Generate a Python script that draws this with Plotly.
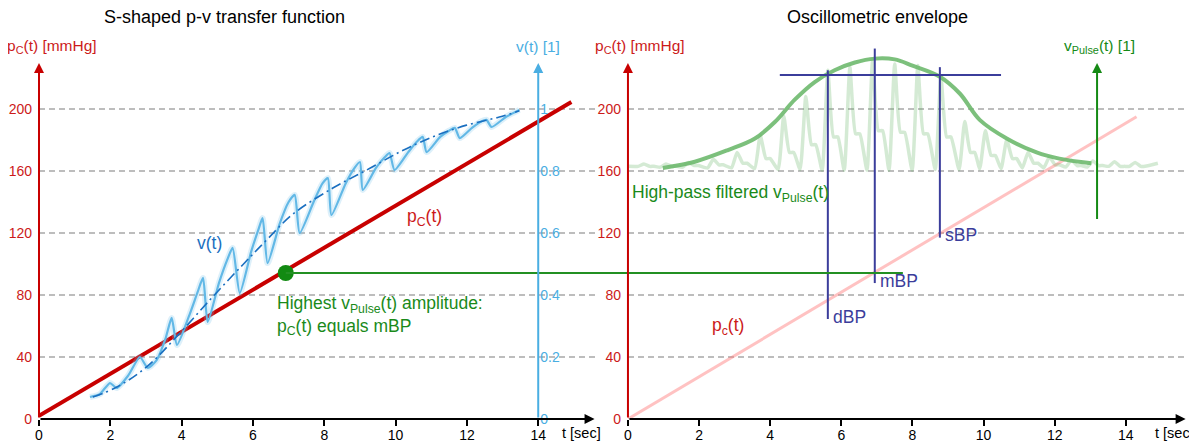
import plotly.graph_objects as go

# ---------------- data ----------------
x_ticks = [0, 2, 4, 6, 8, 10, 12, 14]
p_ticks = [0, 40, 80, 120, 160, 200]
v_ticks = [0, 0.2, 0.4, 0.6, 0.8, 1]
v_tick_text = ["0", "0.2", "0.4", "0.6", "0.8", "1"]

# left panel: cuff pressure ramp (mmHg)
pc_line_t = [0, 14.93]
pc_line_p = [2, 204.5]

# left panel: measured volume signal v(t) [1]
v_t = [1.43, 1.7, 1.99, 2.18, 2.5, 2.83, 3.05, 3.3, 3.55, 3.72, 3.87, 4.2, 4.45, 4.6, 4.73,
       5.05, 5.3, 5.43, 5.63, 5.95, 6.15, 6.27, 6.41, 6.75, 7.0, 7.17, 7.31, 7.7, 7.95, 8.1,
       8.2, 8.6, 8.85, 9.0, 9.08, 9.45, 9.7, 9.83, 9.97, 10.35, 10.6, 10.76, 10.87, 11.25,
       11.5, 11.66, 11.8, 12.15, 12.4, 12.55, 12.69, 13.1, 13.47]
v_vals = [0.071, 0.08, 0.116, 0.1, 0.14, 0.2, 0.165, 0.19, 0.26, 0.326, 0.239, 0.33, 0.41, 0.455,
          0.313, 0.44, 0.52, 0.552, 0.406, 0.54, 0.61, 0.648, 0.503, 0.63, 0.70, 0.723, 0.6,
          0.70, 0.76, 0.777, 0.658, 0.76, 0.81, 0.829, 0.739, 0.81, 0.845, 0.858, 0.803, 0.86,
          0.895, 0.91, 0.861, 0.91, 0.93, 0.939, 0.906, 0.94, 0.96, 0.965, 0.942, 0.975, 0.997]

# left panel: smooth S-shaped trend of v(t)
v_smooth_t = [1.51, 2.18, 3.02, 3.95, 4.87, 5.71, 6.38, 7.11, 8.24, 9.19, 10.11, 11.04, 11.99, 12.91, 13.47]
v_smooth_v = [0.071, 0.103, 0.168, 0.277, 0.394, 0.497, 0.577, 0.66, 0.745, 0.803, 0.861, 0.91, 0.948, 0.974, 0.994]

# point of highest pulse amplitude
mbp_point_t = 6.92
mbp_point_p = 94.2
mbp_line_end_t = 7.73   # end of the horizontal marker line (right panel time)

# right panel: pressure ramp
pc_ramp_t = [0, 14.3]
pc_ramp_p = [0, 195]

# right panel: high-pass filtered pulse signal (plotted on the pressure scale)
osc_peak_t = [0.45, 1.07, 1.7, 2.4, 3.07, 3.72, 4.38, 5.0, 5.62, 6.24, 6.88, 7.5, 8.15, 8.8,
              9.47, 10.05, 10.65, 11.25, 11.85, 12.47, 13.07, 13.68, 14.26]
osc_peak_p = [164.5, 164.5, 165.5, 167.5, 172, 183, 195.5, 208, 225, 227, 232, 229, 228, 221,
              192, 186, 180, 172, 169, 167, 166.5, 166, 165.5]
osc_notch_p = [163, 163, 163.5, 164, 165, 168, 172, 177, 182, 184, 186, 185, 184, 182,
               172, 170, 168, 165, 164, 163.5, 163.5, 163, 163]
osc_trough_p = [163, 162.5, 162.5, 162, 162, 161.5, 161, 161, 160.5, 160.5, 160.5, 160.5, 160.5,
                161, 161, 161.5, 161.5, 162, 162, 162.5, 162.5, 163, 163]
osc_start = (0.0, 163)
osc_end = (14.9, 165)

# envelope of the pulse signal
env_t = [0.98, 1.88, 2.81, 3.57, 4.13, 4.69, 5.25, 5.81, 6.38, 6.94, 7.5, 8.0, 8.76, 9.33,
         9.89, 10.65, 11.49, 12.13, 13.03]
env_p = [162, 166, 173.5, 181, 191.6, 206, 217.4, 225, 230, 232.5, 232, 228, 221, 210,
         193, 181, 172, 168, 165]

# blood pressure markers
bp_names = ["dBP", "mBP", "sBP"]
bp_t = [5.62, 6.94, 8.77]
bp_low = [64.5, 87.7, 117]
bp_high = [225, 239, 227]
thr_p = 222
thr_t = [4.27, 10.49]

# ---------------- layout geometry ----------------
# page body has an 8px default margin, so the figure is made 8px smaller
W, H = 1189, 435
ML, MR, MT, MB = 31, 0, 31, 24
P_RANGE = [0, 245.16]
X1_RANGE = [0, 15.62]
X2_RANGE = [0, 15.72]
X1_DOM = [0, 0.481]
X2_DOM = [0.5086, 0.9914]
V_RANGE = [0, P_RANGE[1] / 200.0]
V_POS = X1_DOM[0] + (14 - X1_RANGE[0]) / (X1_RANGE[1] - X1_RANGE[0]) * (X1_DOM[1] - X1_DOM[0])

RED = "#c80000"
RED_TXT = "#cc1a1a"
LBLUE = "#4aaee2"
DBLUE = "#1a6fc0"
GREEN = "#1a8a1a"
NAVY = "#3b3d9b"
FONT = "Arial, Liberation Sans, sans-serif"
TXT = 17.5


def to_paper_x(t, rng, dom):
    return dom[0] + (t - rng[0]) / (rng[1] - rng[0]) * (dom[1] - dom[0])


fig = go.Figure()

# ---- left panel traces ----
fig.add_trace(go.Scatter(x=v_t, y=v_vals, xaxis="x", yaxis="y2", mode="lines",
                         line=dict(color="rgba(120,195,235,0.25)", width=6, shape="spline", smoothing=0.6),
                         hoverinfo="skip"))
fig.add_trace(go.Scatter(x=v_t, y=v_vals, xaxis="x", yaxis="y2", mode="lines",
                         line=dict(color="#62b8e6", width=2.2, shape="spline", smoothing=0.6)))
fig.add_trace(go.Scatter(x=v_smooth_t, y=v_smooth_v, xaxis="x", yaxis="y2", mode="lines",
                         line=dict(color=DBLUE, width=1.6, dash="10px,4px,2px,4px", shape="spline")))
fig.add_trace(go.Scatter(x=pc_line_t, y=pc_line_p, xaxis="x", yaxis="y", mode="lines",
                         line=dict(color=RED, width=4)))

# ---- right panel traces ----
osc_t = [osc_start[0]]
osc_p = [osc_start[1]]
for tp, pk, nt, tr in zip(osc_peak_t, osc_peak_p, osc_notch_p, osc_trough_p):
    osc_t += [tp - 0.16, tp, tp + 0.16, tp + 0.28]
    osc_p += [tr, pk, nt, nt]
osc_t.append(osc_end[0])
osc_p.append(osc_end[1])

fig.add_trace(go.Scatter(x=pc_ramp_t, y=pc_ramp_p, xaxis="x2", yaxis="y3", mode="lines",
                         line=dict(color="rgba(255,120,120,0.45)", width=3)))
fig.add_trace(go.Scatter(x=osc_t, y=osc_p, xaxis="x2", yaxis="y3", mode="lines",
                         line=dict(color="rgba(100,180,100,0.28)", width=3.5, shape="spline", smoothing=0.5)))
fig.add_trace(go.Scatter(x=env_t, y=env_p, xaxis="x2", yaxis="y3", mode="lines",
                         line=dict(color="rgba(110,185,110,0.9)", width=4, shape="spline")))

# BP markers
fig.add_trace(go.Scatter(x=thr_t, y=[thr_p, thr_p], xaxis="x2", yaxis="y3", mode="lines",
                         line=dict(color=NAVY, width=2)))
for t, lo, hi in zip(bp_t, bp_low, bp_high):
    fig.add_trace(go.Scatter(x=[t, t], y=[lo, hi], xaxis="x2", yaxis="y3", mode="lines",
                             line=dict(color=NAVY, width=2)))

# green horizontal line spanning both panels
fig.add_shape(type="line", xref="paper", yref="y",
              x0=to_paper_x(mbp_point_t, X1_RANGE, X1_DOM),
              x1=to_paper_x(mbp_line_end_t, X2_RANGE, X2_DOM),
              y0=mbp_point_p, y1=mbp_point_p, line=dict(color="#239023", width=2))

fig.add_trace(go.Scatter(x=[mbp_point_t], y=[mbp_point_p], xaxis="x", yaxis="y", mode="markers",
                         marker=dict(color="#128a12", size=16)))

# ---------------- axes ----------------
common_x = dict(tickmode="array", tickvals=x_ticks, ticks="outside", ticklen=6, tickwidth=2,
                tickcolor="black", showgrid=False, zeroline=False, showline=False, automargin=False,
                ticklabelstandoff=-3,
                tickfont=dict(family=FONT, size=14, color="black"))
fig.update_layout(
    xaxis=dict(domain=X1_DOM, range=X1_RANGE, anchor="y", **common_x),
    xaxis2=dict(domain=X2_DOM, range=X2_RANGE, anchor="y3", **common_x),
    yaxis=dict(range=P_RANGE, anchor="x", tickmode="array", tickvals=p_ticks, ticks="",
               ticklabelstandoff=6, showgrid=True, gridcolor="#bdbdbd", griddash="6px,4px",
               gridwidth=1.5, zeroline=False, showline=False, automargin=False,
               tickfont=dict(family=FONT, size=14, color=RED_TXT)),
    yaxis2=dict(range=V_RANGE, overlaying="y", anchor="free", position=V_POS, side="right",
                tickmode="array", tickvals=v_ticks, ticktext=v_tick_text, ticks="",
                ticklabelstandoff=1, showgrid=False, zeroline=False, showline=False, automargin=False,
                tickfont=dict(family=FONT, size=14, color=LBLUE)),
    yaxis3=dict(range=P_RANGE, anchor="x2", tickmode="array", tickvals=p_ticks, ticks="",
                ticklabelstandoff=6, showgrid=True, gridcolor="#bdbdbd", griddash="6px,4px",
                gridwidth=1.5, zeroline=False, showline=False, automargin=False,
                tickfont=dict(family=FONT, size=14, color=RED_TXT)),
)

# ---------------- axis arrows ----------------
def arrow(xref, yref, x0, y0, x1, y1, color):
    fig.add_annotation(x=x1, y=y1, ax=x0, ay=y0, xref=xref, yref=yref, axref=xref, ayref=yref,
                       showarrow=True, arrowhead=2, arrowsize=1, arrowwidth=2, arrowcolor=color,
                       text="")

p_top = 229.7
arrow("x", "y", 0, 0, 15.58, 0, "black")
arrow("x", "y", 0, 0, 0, p_top, RED)
arrow("x", "y", 14, 0, 14, p_top, LBLUE)
arrow("x2", "y3", 0, 0, 15.68, 0, "black")
arrow("x2", "y3", 0, 0, 0, p_top, RED)
arrow("x2", "y3", 13.19, 128, 13.19, p_top, "#158a15")

# ---------------- texts ----------------
def label(text, xref, yref, x, y, color, size=TXT, xanchor="center", yanchor="middle", align="center"):
    fig.add_annotation(text=text, xref=xref, yref=yref, x=x, y=y, showarrow=False,
                       xanchor=xanchor, yanchor=yanchor, align=align,
                       font=dict(family=FONT, size=size, color=color))

label("S-shaped p-v transfer function", "x", "paper", 5.21, 1.058, "black", size=18)
label("Oscillometric envelope", "x2", "paper", 7.03, 1.058, "black", size=18)

label("p<sub>C</sub>(t) [mmHg]", "x", "y", 0.36, 240.6, RED_TXT, size=15.5)
label("v(t) [1]", "x", "y", 14, 240.6, LBLUE, size=15.5)
label("p<sub>C</sub>(t) [mmHg]", "x2", "y3", 0.34, 240.6, RED_TXT, size=15.5)
label("v<sub>Pulse</sub>(t) [1]", "x2", "y3", 13.27, 240.6, "#158a15", size=15.5)
label("t [sec]", "x", "paper", 15.2, -0.038, "black", size=14.5)
label("t [sec]", "x2", "paper", 15.38, -0.038, "black", size=14.5)

label("v(t)", "x", "y", 4.79, 113.5, DBLUE)
label("p<sub>C</sub>(t)", "x", "y", 10.81, 129.7, RED_TXT)
label("Highest v<sub>Pulse</sub>(t) amplitude:<br>p<sub>C</sub>(t) equals mBP", "x", "y",
      6.61, 66.5, GREEN, xanchor="left", align="left")
label("High-pass filtered v<sub>Pulse</sub>(t)", "x2", "y3", 0.06, 145.8, GREEN, xanchor="left")
label("p<sub>c</sub>(t)", "x2", "y3", 2.81, 60, RED_TXT)
for name, t, lo in zip(bp_names, bp_t, bp_low):
    label(name, "x2", "y3", t + 0.08, lo + 1.5, NAVY, xanchor="left")

fig.update_layout(width=W, height=H, margin=dict(l=ML, r=MR, t=MT, b=MB),
                  plot_bgcolor="white", paper_bgcolor="white", showlegend=False,
                  font=dict(family=FONT))

fig.write_html("out.html")
